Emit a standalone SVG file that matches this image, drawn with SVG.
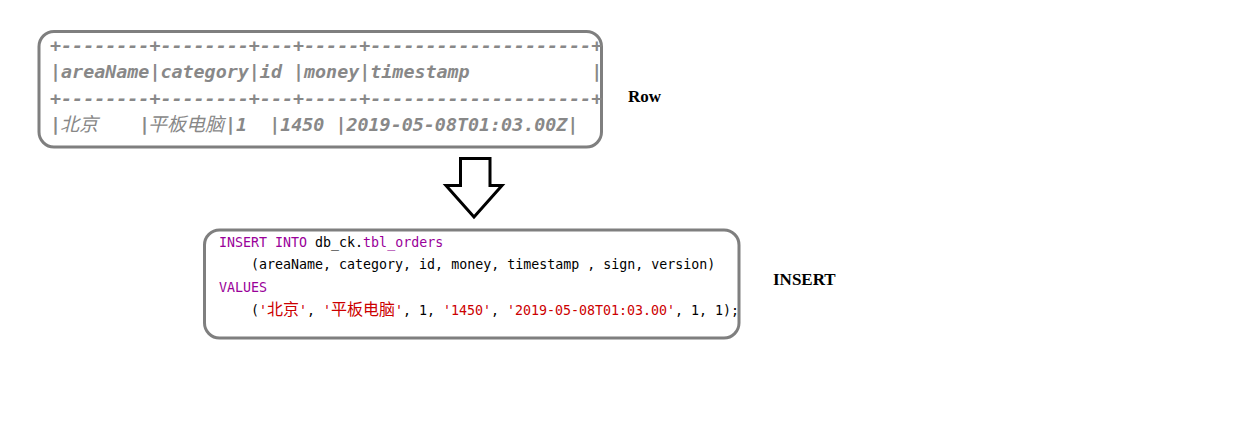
<svg xmlns="http://www.w3.org/2000/svg" width="1254" height="437" viewBox="0 0 1254 437">
<style>
.box{fill:#fff;stroke:#7f7f7f;stroke-width:3}
.tbl{font-family:"DejaVu Sans Mono","Noto Sans CJK SC",monospace;font-size:18.35px;font-style:italic;font-weight:bold;fill:#888}
.cjk1{font-family:"Noto Sans CJK SC",sans-serif;font-weight:normal;font-size:19px}
.sql{font-family:"DejaVu Sans Mono","Noto Sans CJK SC",monospace;font-size:13.3px;fill:#000}
.cjk2{font-family:"Noto Sans CJK SC",sans-serif;font-size:16px}
.kw{fill:#990099}
.str{fill:#cc0000}
.lbl{font-family:"Liberation Serif",serif;font-weight:bold;font-size:17px;fill:#000}
</style>
<rect width="1254" height="437" fill="#fff"/>
<g id="row-table">
<rect class="box" x="39" y="31.5" width="562.5" height="115.5" rx="15" ry="15"/>
<text class="tbl" x="50" y="51.5" xml:space="preserve">+--------+--------+---+-----+--------------------+</text>
<text class="tbl" x="50" y="78" xml:space="preserve">|areaName|category|id |money|timestamp           |</text>
<text class="tbl" x="50" y="104.5" xml:space="preserve">+--------+--------+---+-----+--------------------+</text>
<text class="tbl" y="131" xml:space="preserve"><tspan x="50">|</tspan><tspan x="60" class="cjk1">北京</tspan><tspan x="139">|</tspan><tspan x="148" class="cjk1">平板电脑</tspan><tspan x="225">|1  |1450 |2019-05-08T01:03.00Z|</tspan></text>
</g>
<g id="row-label">
<text class="lbl" x="628" y="102">Row</text>
</g>
<g id="connectors">
<polygon points="460.5,158.5 490,158.5 490,185.5 502,185.5 474,217 446,185.5 460.5,185.5" fill="#fff" stroke="#000" stroke-width="3" stroke-linejoin="miter"/>
</g>
<g id="insert-sql">
<rect class="box" x="204.5" y="230" width="534.5" height="108" rx="15" ry="15"/>
<text class="sql" x="219" y="246.5" xml:space="preserve"><tspan class="kw">INSERT INTO</tspan> db_ck.<tspan class="kw">tbl_orders</tspan></text>
<text class="sql" x="251" y="269" xml:space="preserve">(areaName, category, id, money, timestamp , sign, version)</text>
<text class="sql kw" x="219" y="292">VALUES</text>
<text class="sql" y="314.5" xml:space="preserve"><tspan x="251">(</tspan><tspan x="259" class="str">'</tspan><tspan x="267" class="str cjk2">北京</tspan><tspan x="299" class="str">'</tspan><tspan x="307">, </tspan><tspan x="323" class="str">'</tspan><tspan x="331" class="str cjk2">平板电脑</tspan><tspan x="395" class="str">'</tspan><tspan x="403">, 1, </tspan><tspan x="443" class="str">'1450'</tspan><tspan x="491">, </tspan><tspan x="507" class="str">'2019-05-08T01:03.00'</tspan><tspan x="675">, 1, 1);</tspan></text>
</g>
<g id="insert-label">
<text class="lbl" x="773" y="285">INSERT</text>
</g>
</svg>
